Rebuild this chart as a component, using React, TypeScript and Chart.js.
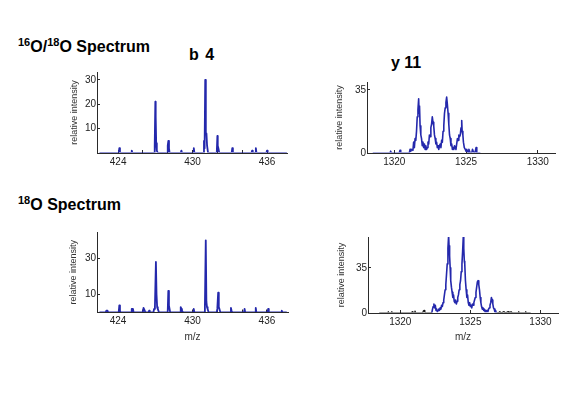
import React, { useEffect, useRef } from "react";
import { Chart, registerables } from "chart.js";

Chart.register(...registerables);

// ---------- DATA ----------
// Panel A: b 4, 16O/18O spectrum
const A_MZ = [422.5, 424.05, 424.1, 424.15, 425.05, 425.1, 425.15, 426.9, 426.95, 427.0, 427.03, 427.07, 427.12, 427.2,
  427.95, 428.0, 428.05, 428.1, 428.15, 429.05, 429.1, 429.15, 430.05, 430.1, 430.15,
  430.85, 430.92, 430.97, 431.02, 431.07, 431.12, 431.17, 431.25, 431.95, 432.0, 432.03, 432.08, 432.15,
  433.15, 433.2, 433.25, 434.75, 434.8, 434.85, 435.05, 435.1, 435.15, 435.95, 436.0, 436.05, 437.6];
const A_INT = [0, 0, 2, 0, 0, 1, 0, 0, 3, 21, 15, 4, 1, 0,
  0, 3, 5, 2, 0, 0, 1, 0, 0, 2, 0,
  0, 5, 2, 30, 8, 8, 3, 0, 0, 7, 3, 2, 0,
  0, 2, 0, 0, 1, 0, 0, 2, 0, 0, 1, 0, 0];

// Panel B: y 11, 16O/18O spectrum
const B_MZ = [1318.5, 1319.7, 1319.75, 1319.8, 1320.35, 1320.4, 1320.45,
  1321.05, 1321.1, 1321.15, 1321.2, 1321.3, 1321.35, 1321.4, 1321.45, 1321.5, 1321.55, 1321.6, 1321.65, 1321.7, 1321.73, 1321.76, 1321.8, 1321.85, 1321.9, 1321.95,
  1322.0, 1322.05, 1322.1, 1322.15, 1322.2, 1322.25, 1322.3, 1322.35, 1322.4, 1322.45, 1322.5, 1322.55, 1322.6, 1322.65, 1322.7, 1322.75, 1322.8, 1322.85, 1322.9, 1322.95,
  1323.0, 1323.05, 1323.1, 1323.15, 1323.2, 1323.25, 1323.3, 1323.35, 1323.4, 1323.45, 1323.5, 1323.55, 1323.6, 1323.65, 1323.7, 1323.75, 1323.8, 1323.85, 1323.9, 1323.95,
  1324.0, 1324.05, 1324.1, 1324.15, 1324.2, 1324.25, 1324.3, 1324.35, 1324.4, 1324.45, 1324.5, 1324.55, 1324.6, 1324.65, 1324.7, 1324.73, 1324.78, 1324.82, 1324.88, 1324.95,
  1325.0, 1325.05, 1325.1, 1325.15, 1325.2, 1325.25, 1325.3, 1325.4, 1325.45, 1325.5, 1325.6, 1325.65, 1325.7, 1325.75, 1326.0];
const B_INT = [0, 0, 1, 0, 0, 1.5, 0,
  0, 2, 1, 2, 1.5, 6, 3, 8, 7, 12, 20, 24, 30, 22, 26, 15, 10, 8, 4,
  6, 3, 5, 2, 4, 2, 3, 6, 5, 10, 9, 14, 16, 20, 17, 15, 10, 8, 5, 6,
  3, 4, 2, 4, 5, 3, 7, 6, 12, 15, 22, 25, 28, 31, 27, 22, 16, 10, 8, 4,
  5, 2, 3, 2, 4, 3, 2, 5, 8, 7, 10, 9, 10, 14, 18, 12, 10, 6, 3, 2,
  1, 2, 1, 0, 2, 1, 0, 0, 2, 1, 0, 1, 3, 0, 0];

// Panel C: b 4, 18O spectrum
const C_MZ = [422.5, 423.0, 423.05, 423.15, 423.2, 424.05, 424.1, 424.15, 424.2, 425.05, 425.1, 425.2, 425.25,
  426.0, 426.05, 426.15, 426.2, 426.45, 426.5, 426.55, 426.85, 426.9, 426.97, 427.05, 427.1, 427.15, 427.2, 427.3,
  428.0, 428.05, 428.1, 428.15, 428.2, 429.0, 429.05, 429.1, 429.15, 429.25, 430.05, 430.1, 430.15,
  430.95, 431.0, 431.07, 431.12, 431.17, 431.22, 431.3, 431.95, 432.0, 432.07, 432.12, 432.17, 432.25,
  433.05, 433.1, 433.15, 433.2, 434.15, 434.2, 434.25, 435.05, 435.1, 435.15, 436.05, 436.1, 436.15,
  437.15, 437.2, 437.25, 437.6];
const C_INT = [0, 0, 1, 1, 0, 0, 4, 1, 0, 0, 2, 2, 0,
  0, 2.5, 1, 0, 0, 1, 0, 0, 2, 3, 28, 10, 3, 2, 0,
  0, 12, 4, 2, 0, 0, 3, 2, 1, 0, 0, 2, 0,
  0, 3, 40, 6, 3, 2, 0, 0, 2, 11, 3, 2, 0,
  0, 2.5, 1, 0, 0, 2, 0, 0, 2.5, 0, 0, 2, 0,
  0, 1, 0, 0];

// Panel D: y 11, 18O spectrum (noise in black, envelope in blue)
const D_NOISE_MZ = [1318.5, 1319.1, 1319.15, 1319.2, 1319.35, 1319.4, 1319.45, 1320.8, 1320.85, 1320.9, 1321.0, 1321.05, 1321.1,
  1321.6, 1321.65, 1321.7, 1321.75, 1321.8, 1322.25, 1322.27,
  1326.88, 1326.9, 1327.0, 1327.1, 1327.2, 1327.4, 1327.5, 1327.7, 1327.75, 1327.9, 1328.0, 1328.4, 1328.45, 1328.5, 1328.9, 1328.95, 1329.0, 1329.3];
const D_NOISE_INT = [0, 0, 1, 0, 0, 1, 0, 0, 1, 0, 0, 1.5, 0,
  0, 1.5, 2, 1, 0, 0, null,
  null, 0, 0, 1, 0, 1, 0, 1, 0, 1, 0, 0, 1, 0, 0, 1, 0, 0];
const D_MZ = [1322.25, 1322.3, 1322.35, 1322.4, 1322.45, 1322.5, 1322.55, 1322.6, 1322.65, 1322.7, 1322.75, 1322.8, 1322.85, 1322.9, 1322.95,
  1323.0, 1323.05, 1323.1, 1323.15, 1323.2, 1323.25, 1323.3, 1323.35, 1323.4, 1323.45, 1323.48, 1323.52, 1323.56, 1323.6, 1323.65, 1323.7, 1323.75, 1323.8, 1323.85, 1323.9, 1323.95,
  1324.0, 1324.05, 1324.1, 1324.15, 1324.2, 1324.25, 1324.3, 1324.35, 1324.4, 1324.45, 1324.5, 1324.53, 1324.57, 1324.6, 1324.65, 1324.7, 1324.75, 1324.8, 1324.85, 1324.9, 1324.95,
  1325.0, 1325.05, 1325.1, 1325.15, 1325.2, 1325.25, 1325.3, 1325.35, 1325.4, 1325.45, 1325.5, 1325.55, 1325.6, 1325.65, 1325.7, 1325.75, 1325.8, 1325.85, 1325.9, 1325.95,
  1326.0, 1326.05, 1326.1, 1326.15, 1326.2, 1326.25, 1326.3, 1326.35, 1326.4, 1326.45, 1326.5, 1326.55, 1326.6, 1326.65, 1326.7, 1326.75, 1326.8, 1326.85, 1326.9];
const D_INT = [0, 3, 5, 7, 4, 6, 2, 3, 1, 2, 3, 2, 4, 3, 6,
  5, 8, 10, 14, 18, 22, 30, 38, 50, 60, 52, 44, 35, 25, 20, 16, 12, 14, 9, 8, 10,
  7, 9, 12, 14, 18, 22, 25, 32, 38, 48, 60, 50, 40, 38, 25, 18, 12, 14, 8, 6, 8,
  5, 6, 4, 7, 6, 8, 10, 12, 16, 20, 24, 25, 22, 18, 12, 8, 5, 3, 4, 2,
  3, 1, 2, 1, 2, 1, 3, 4, 6, 8, 12, 10, 7, 4, 3, 1, 2, 0, 0];

// Tick values / labels
const B4_X_TICKS = [424, 426, 428, 430, 432, 434, 436];
const B4_X_LABELS = [424, 430, 436];
const Y11_X_TICKS = [1320, 1325, 1330];
const Y11_X_LABELS = [1320, 1325, 1330];
const A_Y_TICKS = [10, 20, 30];
const B_Y_TICKS = [0, 35];
const C_Y_TICKS = [10, 30];
const D_Y_TICKS = [0, 35];

const BLUE = "rgb(36,40,172)";
const AXIS = "#2a2a2a";
const FONT = "'Liberation Sans', Arial, sans-serif";

const pts = (xs: number[], ys: (number | null)[]) => xs.map((x, i) => ({ x, y: ys[i] }));

type PanelProps = {
  cx: number; cy: number; cw: number; ch: number;
  l: number; t: number; r: number; b: number;
  xMin: number; xMax: number; yMax: number;
  xTicks: number[]; xLabels: number[]; yTicks: number[];
  datasets: any[];
  yTitleX: number; xTitleY?: number;
};

function Panel(p: PanelProps) {
  const ref = useRef<HTMLCanvasElement>(null);
  useEffect(() => {
    const yTitleLH = 9 * 1.2;
    const xTitleLH = 10 * 1.2;
    const chart = new Chart(ref.current!, {
      type: "line",
      data: { datasets: p.datasets },
      options: {
        animation: false,
        responsive: false,
        maintainAspectRatio: false,
        layout: { padding: { left: 0, top: p.t - p.cy, right: p.cx + p.cw - p.r, bottom: 0 } },
        plugins: { legend: { display: false }, tooltip: { enabled: false }, title: { display: false } },
        elements: { point: { radius: 0 }, line: { tension: 0 } },
        scales: {
          x: {
            type: "linear",
            position: "bottom",
            z: 1,
            min: p.xMin,
            max: p.xMax,
            afterBuildTicks: (s: any) => { s.ticks = p.xTicks.map((v) => ({ value: v })); },
            afterFit: (s: any) => { s.height = p.cy + p.ch - p.b; },
            grid: { display: true, drawOnChartArea: false, drawTicks: true, tickLength: -3, color: AXIS, lineWidth: 1 },
            border: { display: true, color: AXIS, width: 1 },
            ticks: {
              autoSkip: false, maxRotation: 0, padding: 6, color: "#222",
              font: { family: FONT, size: 10 },
              callback: (v: any) => (p.xLabels.includes(Number(v)) ? String(v) : ""),
            },
            title: p.xTitleY !== undefined ? {
              display: true, text: "m/z", color: "#333",
              font: { family: FONT, size: 10 },
              padding: { top: 0, bottom: p.cy + p.ch - p.xTitleY - xTitleLH / 2 },
            } : { display: false },
          },
          y: {
            type: "linear",
            position: "left",
            z: 1,
            min: 0,
            max: p.yMax,
            afterBuildTicks: (s: any) => { s.ticks = p.yTicks.map((v) => ({ value: v })); },
            afterFit: (s: any) => { s.width = p.l - p.cx; },
            grid: { display: true, drawOnChartArea: false, drawTicks: true, tickLength: -3, color: AXIS, lineWidth: 1 },
            border: { display: true, color: AXIS, width: 1 },
            ticks: {
              autoSkip: false, padding: 4, color: "#222",
              font: { family: FONT, size: 10 },
              callback: (v: any) => String(v),
            },
            title: {
              display: true, text: "relative intensity", color: "#333",
              font: { family: FONT, size: 9 },
              padding: { top: p.yTitleX - p.cx - yTitleLH / 2, bottom: 0 },
            },
          },
        },
      } as any,
    });
    return () => chart.destroy();
  }, []);
  return (
    <canvas
      ref={ref}
      width={p.cw}
      height={p.ch}
      style={{ position: "absolute", left: p.cx, top: p.cy, width: p.cw, height: p.ch }}
    />
  );
}

const lineDs = (data: any[], color: string, width: number) => ({
  data, borderColor: color, backgroundColor: color, borderWidth: width, pointRadius: 0, spanGaps: false,
  borderJoinStyle: "round", clip: { left: 0, right: 0, top: 0, bottom: -0.5 },
});

const titleStyle: React.CSSProperties = {
  position: "absolute", fontFamily: FONT, fontWeight: "bold", fontSize: 16, lineHeight: "16px",
  whiteSpace: "nowrap", color: "#000",
};
const supStyle: React.CSSProperties = { fontSize: 11, position: "relative", top: -6 };

export default function App() {
  return (
    <div style={{ position: "absolute", left: 0, top: 0, width: 566, height: 393, background: "#fff", overflow: "hidden" }}>
      <div style={{ ...titleStyle, left: 18, top: 38.5 }}>
        <span style={supStyle}>16</span>O/<span style={supStyle}>18</span>O Spectrum
      </div>
      <div style={{ ...titleStyle, left: 189, top: 46.5, wordSpacing: 2 }}>b 4</div>
      <div style={{ ...titleStyle, left: 391, top: 55 }}>y 11</div>
      <div style={{ ...titleStyle, left: 18, top: 197 }}>
        <span style={supStyle}>18</span>O Spectrum
      </div>

      <Panel cx={40} cy={62} cw={260} ch={118} l={97} t={70} r={287.5} b={153}
        xMin={422.3} xMax={437.65} yMax={33.2}
        xTicks={B4_X_TICKS} xLabels={B4_X_LABELS} yTicks={A_Y_TICKS}
        datasets={[lineDs(pts(A_MZ, A_INT), BLUE, 1.8)]}
        yTitleX={75} />
      <Panel cx={310} cy={72} cw={256} ch={108} l={367} t={80} r={555} b={153}
        xMin={1318.1} xMax={1331.2} yMax={39.3}
        xTicks={Y11_X_TICKS} xLabels={Y11_X_LABELS} yTicks={B_Y_TICKS}
        datasets={[lineDs(pts(B_MZ, B_INT), BLUE, 1.6)]}
        yTitleX={340} />
      <Panel cx={40} cy={222} cw={260} ch={130} l={97} t={230} r={288} b={312.5}
        xMin={422.3} xMax={437.7} yMax={44.6}
        xTicks={B4_X_TICKS} xLabels={B4_X_LABELS} yTicks={C_Y_TICKS}
        datasets={[lineDs(pts(C_MZ, C_INT), BLUE, 1.8)]}
        yTitleX={74} xTitleY={337} />
      <Panel cx={310} cy={227} cw={256} ch={125} l={368} t={235} r={558} b={313}
        xMin={1317.7} xMax={1331.25} yMax={58.8}
        xTicks={Y11_X_TICKS} xLabels={Y11_X_LABELS} yTicks={D_Y_TICKS}
        datasets={[lineDs(pts(D_NOISE_MZ, D_NOISE_INT), "#111", 1.3), lineDs(pts(D_MZ, D_INT), BLUE, 1.6)]}
        yTitleX={342} xTitleY={337} />
    </div>
  );
}
